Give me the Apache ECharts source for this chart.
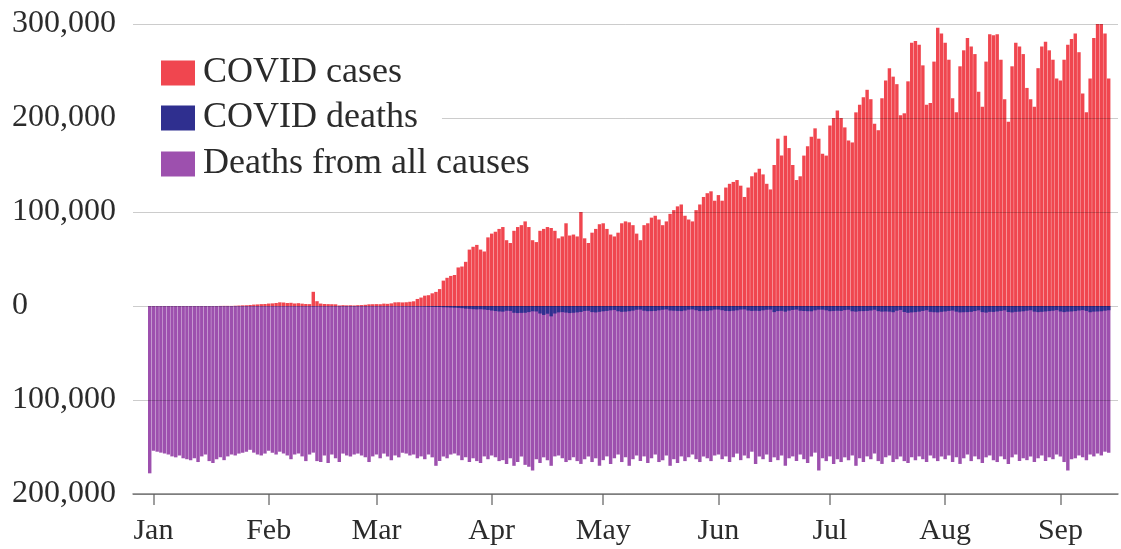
<!DOCTYPE html>
<html>
<head>
<meta charset="utf-8">
<title>COVID cases and deaths</title>
<script src="https://cdn.jsdelivr.net/npm/echarts@6/dist/echarts.min.js"></script>
<style>
  html, body { margin: 0; padding: 0; background: #fff; }
  #chart { width: 1121px; height: 549px; }
</style>
</head>
<body>
<div id="chart"></div>
<script>
// daily values, in thousands, from 31 Dec 2019 to 14 Sep 2020 (one per day)
const firstDay = '2019-12-31';

const cases = [
  0.03,
  // Jan
  0, 0, 0, 0, 0, 0, 0, 0, 0, 0, 0, 0, 0, 0, 0, 0, 0, 0, 0.1, 0.15, 0.15, 0.1, 0.3, 0.5, 0.7, 0.8, 1.1, 1.5, 1.7, 2.0, 2.1,
  // Feb
  2.6, 2.8, 3.2, 3.9, 3.7, 3.2, 3.4, 2.7, 3.0, 2.5, 2.1, 2.0, 15.1, 5.1, 2.6, 2.1, 2.0, 1.9, 1.8, 0.6, 0.9, 0.7, 0.8, 0.6, 0.9, 1.0, 1.3, 1.8, 1.9,
  // Mar
  2.0, 1.9, 2.5, 2.3, 2.8, 3.9, 4.0, 3.8, 4.0, 4.5, 5.0, 7.5, 9.0, 11, 11.5, 13.5, 15, 18, 27, 30, 32, 33, 41, 42, 47, 60, 63, 65, 60, 58, 73,
  // Apr
  77, 79, 82, 84, 70, 67, 80, 84, 86, 90, 84, 70, 68, 80, 82, 84, 83, 80, 72, 74, 88, 75, 76, 74, 100, 72, 67, 78, 82, 87,
  // May
  88, 82, 76, 74, 78, 88, 90, 89, 86, 77, 70, 86, 88, 94, 96, 92, 86, 90, 98, 102, 106, 108, 96, 92, 90, 102, 108, 116, 120, 122, 112,
  // Jun
  118, 112, 126, 130, 132, 134, 128, 116, 126, 138, 142, 146, 140, 130, 124, 150, 178, 160, 181, 168, 150, 134, 138, 160, 170, 180, 189, 178, 162, 160,
  // Jul
  192, 200, 208, 200, 190, 176, 174, 206, 214, 222, 230, 220, 194, 187, 221, 240, 253, 244, 236, 203, 205, 239, 280, 282, 278, 256, 214, 216, 260, 296, 290,
  // Aug
  280, 262, 221, 206, 255, 272, 285, 276, 268, 228, 212, 260, 289, 288, 289, 262, 220, 196, 255, 280, 276, 268, 232, 220, 212, 253, 276, 281, 272, 262, 242,
  // Sep
  240, 262, 278, 284, 290, 270, 226, 206, 242, 285, 308, 302, 290, 242
];

// deaths are drawn below the zero line
const covidDeaths = [
  0,
  // Jan
  0, 0, 0, 0, 0, 0, 0, 0, 0, 0, 0, 0, 0, 0, 0, 0, 0, 0, 0, 0, 0.01, 0.01, 0.01, 0.01, 0.02, 0.02, 0.03, 0.03, 0.04, 0.04, 0.05,
  // Feb
  0.05, 0.06, 0.06, 0.07, 0.07, 0.08, 0.09, 0.08, 0.1, 0.11, 0.1, 0.1, 0.25, 0.14, 0.14, 0.1, 0.1, 0.1, 0.12, 0.12, 0.1, 0.1, 0.15, 0.15, 0.08, 0.08, 0.1, 0.1, 0.1,
  // Mar
  0.1, 0.1, 0.1, 0.1, 0.1, 0.1, 0.1, 0.2, 0.2, 0.3, 0.3, 0.4, 0.4, 0.5, 0.7, 0.8, 0.9, 1.0, 1.3, 1.4, 1.6, 1.8, 2.0, 2.3, 2.8, 3.0, 3.4, 3.6, 3.4, 3.7, 4.2,
  // Apr
  4.8, 5.3, 5.8, 6.0, 5.0, 5.2, 7.2, 7.5, 7.3, 7.2, 6.5, 5.6, 5.8, 8.0, 9.5, 8.2, 11.0, 8.0, 6.8, 6.5, 7.0, 7.5, 7.2, 6.8, 6.3, 5.2, 5.0, 6.5, 6.8, 6.2,
  // May
  5.6, 5.2, 4.6, 4.2, 5.6, 6.2, 6.0, 5.5, 4.9, 4.0, 3.8, 5.0, 5.5, 5.4, 5.2, 4.6, 4.0, 3.6, 4.8, 5.0, 5.2, 5.4, 4.8, 3.9, 3.6, 4.5, 5.4, 5.0, 5.2, 4.6, 3.8,
  // Jun
  3.8, 4.5, 5.2, 5.4, 5.0, 4.6, 3.8, 3.6, 4.8, 5.2, 5.0, 5.2, 4.6, 4.0, 3.8, 6.5, 5.4, 5.1, 6.0, 4.9, 4.2, 3.8, 5.0, 5.3, 5.5, 5.6, 4.6, 3.9, 3.9, 4.6,
  // Jul
  5.5, 5.2, 5.0, 5.2, 4.4, 4.0, 5.6, 6.0, 5.5, 5.4, 5.2, 4.8, 4.0, 5.5, 6.0, 5.8, 6.0, 6.6, 5.0, 4.2, 6.4, 7.2, 6.8, 6.5, 6.0, 5.2, 4.5, 6.2, 6.6, 6.8, 6.2,
  // Aug
  5.8, 5.2, 4.8, 6.0, 6.8, 6.6, 6.5, 6.2, 5.4, 4.6, 6.5, 7.0, 6.2, 6.3, 5.8, 5.2, 4.6, 6.4, 6.8, 6.2, 6.0, 5.6, 5.0, 4.5, 6.0, 6.5, 6.2, 5.8, 5.4, 5.0, 4.4,
  // Sep
  5.8, 6.5, 6.0, 5.8, 5.4, 4.8, 4.4, 5.2, 6.6, 6.0, 5.8, 5.6, 5.0, 4.5
];

const allDeaths = [
  178,
  // Jan
  154, 155, 156, 157, 158, 160, 161, 159, 162, 163, 164, 162, 166, 160, 158, 165, 167, 163, 161, 164, 160, 158, 159, 157, 156, 155, 153, 156, 158, 159, 157,
  // Feb
  154, 156, 158, 155, 157, 159, 163, 158, 157, 160, 165, 158, 156, 165, 166, 159, 167, 158, 162, 166, 157, 159, 160, 158, 157, 159, 161, 166, 160,
  // Mar
  158, 162, 157, 160, 164, 159, 161, 156, 157, 159, 158, 162, 160, 163, 158, 161, 170, 165, 160, 162, 158, 157, 159, 164, 161, 166, 162, 165, 167, 160, 163,
  // Apr
  159, 161, 165, 164, 168, 162, 170, 166, 160, 169, 171, 175, 163, 167, 161, 164, 170, 160, 159, 162, 166, 164, 161, 165, 168, 163, 160, 166, 162, 170,
  // May
  164, 160, 168, 162, 158, 166, 161, 170, 163, 159, 165, 160, 167, 162, 158, 166, 164, 159, 170, 163, 167, 160, 165, 161, 158, 163, 166, 160, 162, 165, 159,
  // Jun
  158, 163, 160, 166, 161, 157, 164, 159, 162, 155, 168, 160, 163, 158, 166, 161, 164, 159, 170, 162, 160, 165, 158, 163, 167, 160, 156, 175, 162, 165,
  // Jul
  160, 168, 163, 166, 161, 164, 159, 170, 162, 166, 160, 163, 157, 165, 168, 161, 159, 166, 163, 160, 165, 167, 161, 164, 160, 163, 166, 159, 162, 165, 160,
  // Aug
  163, 159, 166, 161, 168, 162, 158, 165, 160, 163, 167, 161, 159, 164, 166, 160, 163, 168, 161, 158, 165, 162, 164, 160, 166, 162, 159, 165, 161, 163, 158,
  // Sep
  160, 166, 175, 163, 162, 159, 161, 164, 158, 160, 157, 159, 155, 156
];

const months = ['Jan', 'Feb', 'Mar', 'Apr', 'May', 'Jun', 'Jul', 'Aug', 'Sep', 'Oct', 'Nov', 'Dec'];
const yTicks = { min: -200, max: 300, step: 100 };

// empty days either side so the bars sit inside the gridlines like the original
const padBefore = 4;
const padAfter = 2;

const DAY = 86400000;
const start = Date.parse(firstDay + 'T00:00:00Z') - padBefore * DAY;
const total = padBefore + cases.length + padAfter;
const days = [];
for (let i = 0; i < total; i++) {
  days.push(new Date(start + i * DAY).toISOString().slice(0, 10));
}

const pad = (arr) => [].concat(Array(padBefore).fill(null), arr, Array(padAfter).fill(null));
const isMonthStart = (idx, val) => val.slice(8) === '01';

const FONT = 'Liberation Serif';
const TEXT = '#2b2b2b';

const chart = echarts.init(document.getElementById('chart'));

function legendRow(name, top, padRight) {
  return {
    data: [name],
    left: 132,
    top: top,
    orient: 'vertical',
    icon: 'rect',
    itemWidth: 34,
    itemHeight: 25,
    padding: [4, padRight, 4, 29],
    backgroundColor: '#fff',
    selectedMode: false,
    textStyle: { fontFamily: FONT, fontSize: 36, lineHeight: 36, color: TEXT, padding: [0, 0, 0, 3] }
  };
}

const option = {
  animation: false,
  backgroundColor: '#fff',
  legend: [
    legendRow('COVID cases', 51, 20),
    legendRow('COVID deaths', 96, 24),
    legendRow('Deaths from all causes', 142, 10)
  ],
  grid: { left: 133, right: 3, top: 24, bottom: 55, containLabel: false },
  xAxis: {
    type: 'category',
    data: days,
    boundaryGap: true,
    axisLine: { onZero: false, lineStyle: { color: '#7f7f7f', width: 1.5 } },
    axisTick: { show: true, alignWithLabel: true, interval: isMonthStart, length: 11, lineStyle: { color: '#7f7f7f', width: 1.5 } },
    axisLabel: {
      interval: isMonthStart,
      formatter: (val) => months[parseInt(val.slice(5, 7), 10) - 1],
      fontFamily: FONT, fontSize: 30, color: TEXT, margin: 22
    },
    splitLine: { show: false }
  },
  yAxis: {
    type: 'value',
    min: yTicks.min,
    max: yTicks.max,
    interval: yTicks.step,
    z: 3,
    axisLine: { show: false },
    axisTick: { show: false },
    axisLabel: {
      align: 'left',
      margin: 121,
      fontFamily: FONT, fontSize: 32, color: TEXT,
      formatter: (v) => Math.abs(v * 1000).toLocaleString('en-US')
    },
    splitLine: { lineStyle: { color: 'rgba(0,0,0,0.2)', width: 1 } }
  },
  series: [
    {
      name: 'Deaths from all causes',
      type: 'bar',
      data: pad(allDeaths.map(v => -v)),
      itemStyle: { color: '#9d50ae' },
      barGap: '-100%',
      barCategoryGap: '8%'
    },
    {
      name: 'COVID deaths',
      type: 'bar',
      data: pad(covidDeaths.map(v => -v)),
      itemStyle: { color: '#2f2f8f' },
      barGap: '-100%',
      barCategoryGap: '8%'
    },
    {
      name: 'COVID cases',
      type: 'bar',
      data: pad(cases),
      itemStyle: { color: '#f0464f' },
      barGap: '-100%',
      barCategoryGap: '8%'
    }
  ]
};

chart.setOption(option);
</script>
</body>
</html>
